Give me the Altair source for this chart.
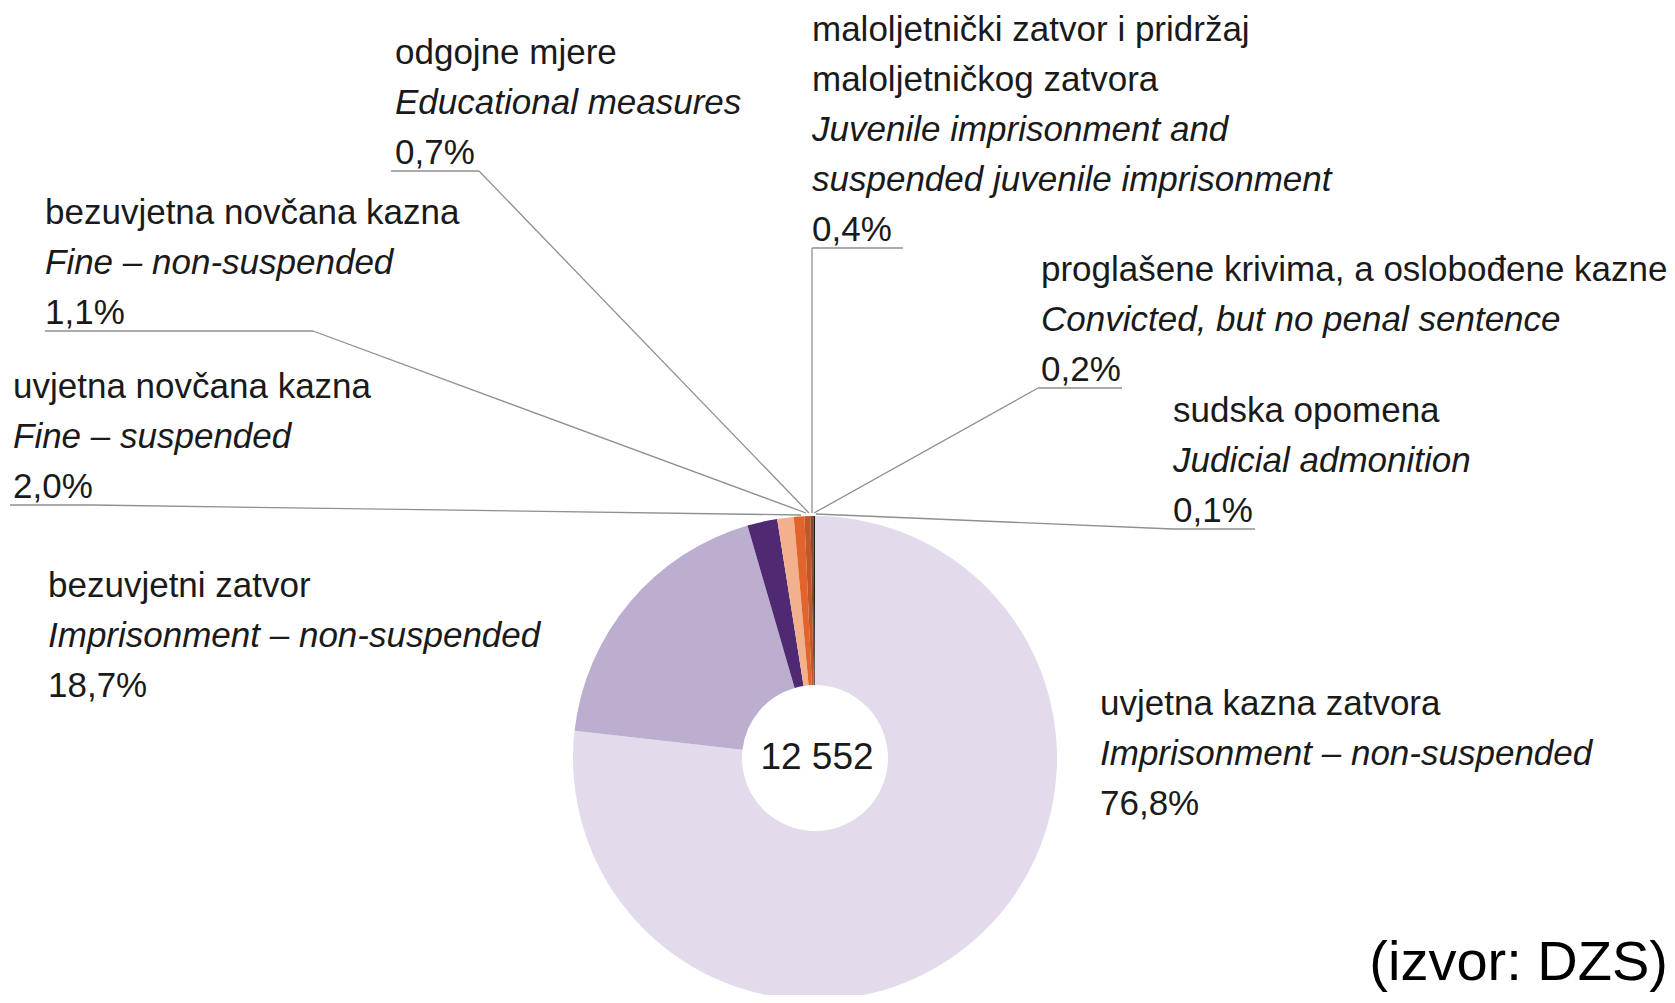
import altair as alt
import pandas as pd

# ---------------- data ----------------
labels_hr = [
    ["uvjetna kazna zatvora"],
    ["bezuvjetni zatvor"],
    ["uvjetna novčana kazna"],
    ["bezuvjetna novčana kazna"],
    ["odgojne mjere"],
    ["maloljetnički zatvor i pridržaj", "maloljetničkog zatvora"],
    ["proglašene krivima, a oslobođene kazne"],
    ["sudska opomena"],
]
labels_en = [
    ["Imprisonment – non-suspended"],
    ["Imprisonment – non-suspended"],
    ["Fine – suspended"],
    ["Fine – non-suspended"],
    ["Educational measures"],
    ["Juvenile imprisonment and", "suspended juvenile imprisonment"],
    ["Convicted, but no penal sentence"],
    ["Judicial admonition"],
]
shares = [76.8, 18.7, 2.0, 1.1, 0.7, 0.4, 0.2, 0.1]
total_label = "12 552"
source_label = "(izvor: DZS)"

# ---------------- styling / layout ----------------
colors = ["#e3dbeb", "#bcaecf", "#4f2a73", "#f3b08c", "#e1642d", "#c2562a", "#8a4726", "#1d1d1d"]
W, H = 1659, 987
CX, CY, R_OUT, R_IN = 815, 758, 242, 73
FONT = "Liberation Sans, Arial"
FS = 35
PITCH = 50
# per category: text x, baseline of last line, underline (x_start, x_end, y), leader end on pie (x, y)
layout = [
    dict(x=1100, base=815, line=None),
    dict(x=48, base=697, line=None),
    dict(x=13, base=498, line=(10, 92, 505), end=(801, 515)),
    dict(x=45, base=324, line=(45, 313, 331), end=(806, 513)),
    dict(x=395, base=164, line=(391, 479, 171), end=(809, 513)),
    dict(x=812, base=241, line=(903, 812, 248), end=(812, 513)),
    dict(x=1041, base=381, line=(1122, 1038, 388), end=(814, 513)),
    dict(x=1173, base=522, line=(1255, 1173, 529), end=(816, 514)),
]

cats = [" / ".join(h) for h in labels_hr]
pie_df = pd.DataFrame({"cat": cats, "share": shares, "idx": list(range(len(shares)))})

text_rows = []
seg_rows = []
for i, (hr, en, v, lay) in enumerate(zip(labels_hr, labels_en, shares, layout)):
    pct = f"{v:.1f}".replace(".", ",") + "%"
    lines = [(t, "normal") for t in hr] + [(t, "italic") for t in en] + [(pct, "normal")]
    n = len(lines)
    for k, (t, st) in enumerate(lines):
        text_rows.append(dict(x=lay["x"], y=lay["base"] - (n - 1 - k) * PITCH, text=t, style=st))
    if lay["line"] is not None:
        x0, x1, yl = lay["line"]
        ex, ey = lay["end"]
        seg_rows.append(dict(x=x0, y=yl, x2=x1, y2=yl))
        seg_rows.append(dict(x=x1, y=yl, x2=ex, y2=ey))
text_df = pd.DataFrame(text_rows)
seg_df = pd.DataFrame(seg_rows)

xs = alt.Scale(domain=[8, 8 + W], nice=False, zero=False)
ys = alt.Scale(domain=[8, 8 + H], nice=False, zero=False, reverse=True)

pie = alt.Chart(pie_df).mark_arc(innerRadius=R_IN, outerRadius=R_OUT, stroke=None).encode(
    theta=alt.Theta("share:Q", stack=True),
    color=alt.Color("cat:N", scale=alt.Scale(domain=cats, range=colors), legend=None),
    order=alt.Order("idx:Q"),
    x=alt.value(CX - 8),
    y=alt.value(CY - 8),
)

segs = alt.Chart(seg_df).mark_rule(color="#8f8f8f", strokeWidth=1.3).encode(
    x=alt.X("x:Q", scale=xs, axis=None),
    y=alt.Y("y:Q", scale=ys, axis=None),
    x2="x2:Q",
    y2="y2:Q",
)

def text_layer(style):
    return alt.Chart(text_df).transform_filter(alt.datum.style == style).mark_text(
        align="left", baseline="alphabetic", font=FONT, fontSize=FS, fontStyle=style, color="#1a1a1a"
    ).encode(
        x=alt.X("x:Q", scale=xs, axis=None),
        y=alt.Y("y:Q", scale=ys, axis=None),
        text="text:N",
    )

center = alt.Chart(pd.DataFrame({"t": [total_label]})).mark_text(
    align="center", baseline="middle", font=FONT, fontSize=37, color="#1a1a1a"
).encode(x=alt.value(CX + 2 - 8), y=alt.value(CY - 8), text="t:N")

source = alt.Chart(pd.DataFrame({"t": [source_label]})).mark_text(
    align="right", baseline="alphabetic", font="Liberation Sans, Arial", fontSize=56, color="#000000"
).encode(x=alt.value(1668 - 8), y=alt.value(980 - 8), text="t:N")

chart = alt.layer(pie, segs, text_layer("normal"), text_layer("italic"), center, source).properties(
    width=W, height=H, padding=0,
    autosize=alt.AutoSizeParams(type="none"),
).configure_view(stroke=None)

chart.save("out.html", embed_options={"renderer": "svg", "actions": False})
